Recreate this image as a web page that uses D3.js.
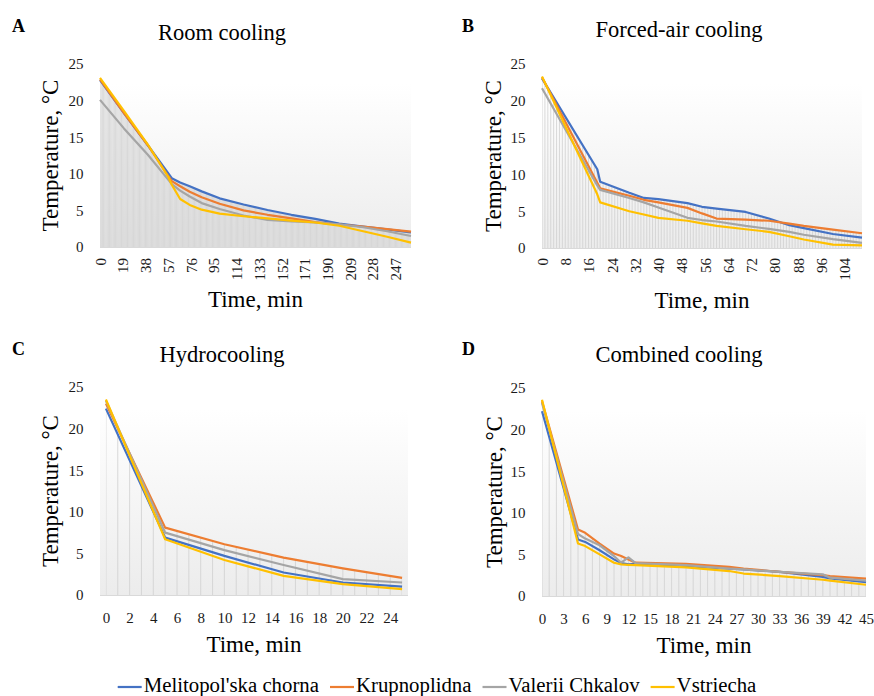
<!DOCTYPE html>
<html>
<head>
<meta charset="utf-8">
<script src="https://cdn.jsdelivr.net/npm/d3@7"></script>
<style>
  html, body { margin: 0; padding: 0; background: #fff; }
  svg { display: block; }
</style>
</head>
<body>
<svg id="chart" width="874" height="696"></svg>
<script>
// Cooling curves of four tomato cultivars under four cooling methods
(function () {
  "use strict";

  // --- Data ---
  var seriesNames = ["Melitopol'ska chorna", "Krupnoplidna", "Valerii Chkalov", "Vstriecha"];
  var tempTicks = [0, 5, 10, 15, 20, 25];

  // A: room cooling
  var roomTime = [0, 20, 40, 57, 60, 67, 75, 85, 100, 120, 140, 160, 180, 200, 220, 240, 260];
  var roomMelitopol = [22.8, 18.3, 13.9, 10.1, 9.4, 8.8, 8.3, 7.6, 6.65, 5.8, 5.05, 4.4, 3.85, 3.2, 2.8, 2.4, 2.0];
  var roomKrupnoplidna = [22.9, 18.3, 13.9, 9.7, 9.0, 8.3, 7.55, 6.8, 5.9, 5.0, 4.4, 3.9, 3.4, 3.05, 2.8, 2.45, 2.1];
  var roomValerii = [20.1, 16.2, 12.6, 9.2, 8.6, 7.7, 6.9, 6.0, 5.2, 4.3, 3.7, 3.5, 3.35, 3.1, 2.7, 2.15, 1.5];
  var roomVstriecha = [23.1, 18.6, 14.0, 9.6, 8.5, 6.55, 5.75, 5.1, 4.55, 4.2, 3.9, 3.6, 3.35, 2.9, 2.15, 1.4, 0.6];
  var roomTicks = [0, 19, 38, 57, 76, 95, 114, 133, 152, 171, 190, 209, 228, 247];

  // B: forced-air cooling
  var forcedTime = [0, 19, 20, 30, 35, 40, 50, 55, 60, 70, 78, 85, 90, 100, 110];
  var forcedMelitopol = [23.05, 10.7, 9.0, 7.5, 6.8, 6.65, 6.1, 5.6, 5.35, 4.9, 4.0, 3.1, 2.7, 1.9, 1.4];
  var forcedKrupnoplidna = [23.2, 8.85, 8.1, 7.1, 6.55, 6.2, 5.45, 4.7, 4.0, 3.85, 3.7, 3.3, 3.0, 2.5, 2.0];
  var forcedValerii = [21.7, 8.5, 7.9, 6.8, 6.2, 5.5, 4.1, 3.8, 3.6, 3.0, 2.6, 2.2, 1.8, 1.2, 0.7];
  var forcedVstriecha = [23.3, 7.3, 6.2, 5.0, 4.55, 4.1, 3.7, 3.35, 3.0, 2.55, 2.2, 1.6, 1.15, 0.45, 0.35];
  var forcedTicks = [0, 8, 16, 24, 32, 40, 48, 56, 64, 72, 80, 88, 96, 104];

  // C: hydrocooling
  var hydroTime = [0, 5, 10, 15, 20, 25];
  var hydroMelitopol = [22.4, 6.9, 4.7, 2.7, 1.5, 1.0];
  var hydroKrupnoplidna = [23.0, 8.1, 6.1, 4.5, 3.2, 2.05];
  var hydroValerii = [23.35, 7.5, 5.4, 3.6, 1.9, 1.5];
  var hydroVstriecha = [23.5, 6.7, 4.2, 2.3, 1.3, 0.7];
  var hydroTicks = [0, 2, 4, 6, 8, 10, 12, 14, 16, 18, 20, 22, 24];

  // D: combined cooling
  var combTime = [0, 5, 6, 8, 10, 11, 12, 13, 20, 26, 28, 33, 39, 40, 45];
  var combMelitopol = [22.2, 6.8, 6.5, 5.5, 4.4, 3.95, 3.8, 3.85, 3.6, 3.3, 3.2, 2.9, 2.3, 2.1, 1.65];
  var combKrupnoplidna = [23.4, 8.0, 7.6, 6.3, 5.1, 4.8, 4.4, 4.0, 3.85, 3.5, 3.3, 2.9, 2.5, 2.4, 2.1];
  var combValerii = [23.2, 7.45, 6.9, 6.1, 4.8, 4.0, 4.65, 3.95, 3.7, 3.3, 3.2, 2.9, 2.6, 2.2, 1.85];
  var combVstriecha = [23.6, 6.3, 6.0, 5.0, 4.0, 3.8, 3.75, 3.7, 3.45, 3.0, 2.7, 2.4, 1.95, 1.85, 1.35];
  var combTicks = [0, 3, 6, 9, 12, 15, 18, 21, 24, 27, 30, 33, 36, 39, 42, 45];

  // --- Style ---
  var FONT = '"Liberation Serif", "Times New Roman", serif';
  var COLORS = ["#4472c4", "#ed7d31", "#a5a5a5", "#ffc000"];

  var panels = [
    { letter: "A", title: "Room cooling", time: roomTime, ticks: roomTicks,
      series: [roomMelitopol, roomKrupnoplidna, roomValerii, roomVstriecha],
      left: 100, right: 411, y0: 247, y25: 64, band: false, rotate: true,
      letterX: 12, letterY: 32, titleX: 222, titleY: 40, yTitleX: 50, xTitleY: 307, tickY: 258 },
    { letter: "B", title: "Forced-air cooling", time: forcedTime, ticks: forcedTicks,
      series: [forcedMelitopol, forcedKrupnoplidna, forcedValerii, forcedVstriecha],
      left: 542, right: 862, y0: 248, y25: 64, band: false, rotate: true,
      letterX: 462, letterY: 32, titleX: 679, titleY: 37, yTitleX: 493, xTitleY: 308, tickY: 258 },
    { letter: "C", title: "Hydrocooling", time: hydroTime, ticks: hydroTicks,
      series: [hydroMelitopol, hydroKrupnoplidna, hydroValerii, hydroVstriecha],
      left: 100, right: 408, y0: 595, y25: 387, band: true, rotate: false,
      letterX: 12, letterY: 355, titleX: 222, titleY: 362, yTitleX: 50, xTitleY: 652, tickY: 623 },
    { letter: "D", title: "Combined cooling", time: combTime, ticks: combTicks,
      series: [combMelitopol, combKrupnoplidna, combValerii, combVstriecha],
      left: 542, right: 866, y0: 596, y25: 388, band: false, rotate: false,
      letterX: 462, letterY: 355, titleX: 679, titleY: 362, yTitleX: 494, xTitleY: 653, tickY: 624 }
  ];

  var svg = d3.select("#chart");
  var defs = svg.append("defs");

  var grad = defs.append("linearGradient")
    .attr("id", "plotGrad")
    .attr("x1", 0).attr("y1", 0).attr("x2", 0).attr("y2", 1);
  grad.append("stop").attr("offset", "0%").attr("stop-color", "#ffffff");
  grad.append("stop").attr("offset", "100%").attr("stop-color", "#ececec");

  svg.append("rect").attr("width", 874).attr("height", 696).attr("fill", "#fff");

  // --- Panels ---
  function drawPanel(p) {
    var g = svg.append("g").attr("class", "panel");
    var last = p.time[p.time.length - 1];

    var x = d3.scaleLinear()
      .domain(p.band ? [-0.5, last + 0.5] : [0, last])
      .range([p.left, p.right]);
    var y = d3.scaleLinear().domain([0, 25]).range([p.y0, p.y25]);

    // plot background
    var bgTop = y(22.3);
    g.append("rect")
      .attr("x", p.left).attr("y", bgTop)
      .attr("width", p.right - p.left).attr("height", p.y0 - bgTop)
      .attr("fill", "url(#plotGrad)");

    // area under all series, used to clip the drop lines
    var area = d3.area()
      .x(function (d, i) { return x(p.time[i]); })
      .y0(y(0))
      .y1(function (d) { return y(d); });
    var clipId = "under-" + p.letter;
    var clip = defs.append("clipPath").attr("id", clipId);
    p.series.forEach(function (s) {
      clip.append("path").attr("d", area(s));
    });

    g.append("g")
      .attr("clip-path", "url(#" + clipId + ")")
      .selectAll("line")
      .data(d3.range(0, last + 1))
      .join("line")
      .attr("x1", function (d) { return x(d); })
      .attr("x2", function (d) { return x(d); })
      .attr("y1", y(0))
      .attr("y2", y(25))
      .attr("stroke", "#d0d0d0")
      .attr("stroke-width", 0.8);

    // category axis line
    g.append("line")
      .attr("x1", p.left).attr("x2", p.right)
      .attr("y1", y(0) + 0.5).attr("y2", y(0) + 0.5)
      .attr("stroke", "#d9d9d9").attr("stroke-width", 1);

    // series lines
    var line = d3.line()
      .x(function (d, i) { return x(p.time[i]); })
      .y(function (d) { return y(d); });
    p.series.forEach(function (s, k) {
      g.append("path")
        .attr("d", line(s))
        .attr("fill", "none")
        .attr("stroke", COLORS[k])
        .attr("stroke-width", 2.2)
        .attr("stroke-linejoin", "round");
    });

    // y axis
    var yAxis = g.append("g")
      .attr("transform", "translate(" + p.left + ",0)")
      .call(d3.axisLeft(y).tickValues(tempTicks).tickSize(0).tickPadding(16.5));
    yAxis.select(".domain").remove();
    yAxis.selectAll("text")
      .attr("font-family", FONT).attr("font-size", 15).attr("fill", "#1a1a1a");

    // x axis
    var xAxis = g.append("g")
      .attr("transform", "translate(0," + p.y0 + ")")
      .call(d3.axisBottom(x).tickValues(p.ticks).tickSize(0).tickPadding(p.tickY - p.y0 - 11));
    xAxis.select(".domain").remove();
    xAxis.selectAll("text")
      .attr("font-family", FONT).attr("font-size", 15).attr("fill", "#1a1a1a");
    if (p.rotate) {
      xAxis.selectAll("text")
        .attr("transform", "rotate(-90)")
        .attr("text-anchor", "end")
        .attr("x", -(p.tickY - p.y0))
        .attr("y", 0)
        .attr("dy", "0.35em");
    }

    // titles
    g.append("text")
      .attr("x", p.letterX).attr("y", p.letterY)
      .attr("font-family", FONT).attr("font-size", 18).attr("font-weight", "bold")
      .attr("fill", "#000")
      .text(p.letter);

    g.append("text")
      .attr("x", p.titleX).attr("y", p.titleY)
      .attr("text-anchor", "middle")
      .attr("font-family", FONT).attr("font-size", 22.5).attr("fill", "#000")
      .text(p.title);

    g.append("text")
      .attr("transform", "translate(" + p.yTitleX + "," + (p.y0 + p.y25) / 2 + ") rotate(-90)")
      .attr("text-anchor", "middle")
      .attr("dy", "0.35em")
      .attr("font-family", FONT).attr("font-size", 23).attr("fill", "#000")
      .text("Temperature, \u00B0C");

    g.append("text")
      .attr("x", (p.left + p.right) / 2).attr("y", p.xTitleY)
      .attr("text-anchor", "middle")
      .attr("font-family", FONT).attr("font-size", 23).attr("fill", "#000")
      .text("Time, min");
  }

  panels.forEach(drawPanel);

  // --- Legend ---
  var legend = svg.append("g").attr("class", "legend");
  var LINE_LEN = 24, LINE_GAP = 2, ITEM_GAP = 11, LEG_Y = 687;
  var items = seriesNames.map(function (name, k) {
    var it = legend.append("g");
    it.append("line")
      .attr("x1", 0).attr("x2", LINE_LEN)
      .attr("y1", LEG_Y).attr("y2", LEG_Y)
      .attr("stroke", COLORS[k]).attr("stroke-width", 2.2);
    var t = it.append("text")
      .attr("x", LINE_LEN + LINE_GAP).attr("y", LEG_Y + 5)
      .attr("font-family", FONT).attr("font-size", 20.8).attr("fill", "#000")
      .text(name);
    return { g: it, w: LINE_LEN + LINE_GAP + t.node().getComputedTextLength() };
  });
  var total = d3.sum(items, function (d) { return d.w; }) + ITEM_GAP * (items.length - 1);
  var cx = 437 - total / 2;
  items.forEach(function (d) {
    d.g.attr("transform", "translate(" + cx + ",0)");
    cx += d.w + ITEM_GAP;
  });
})();
</script>
</body>
</html>
